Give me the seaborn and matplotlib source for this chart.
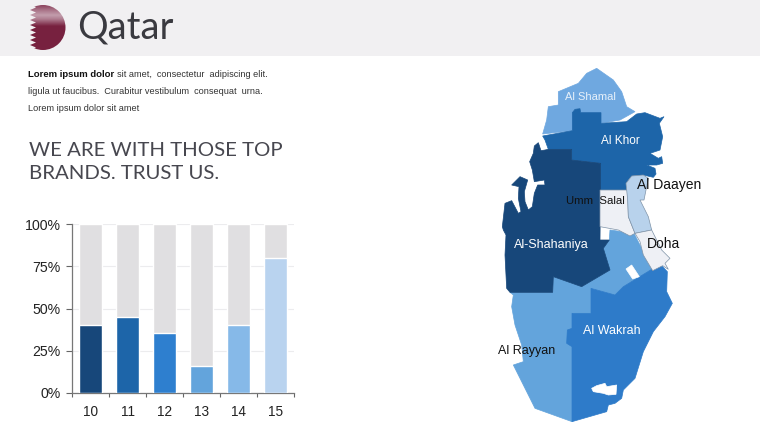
import matplotlib
matplotlib.use("Agg")
import matplotlib.pyplot as plt
from matplotlib.patches import Polygon, Circle, Rectangle
import numpy as np
import pandas as pd
import seaborn as sns

categories = ["10", "11", "12", "13", "14", "15"]
values = [40, 45, 35.5, 16, 40, 80]
totals = [100, 100, 100, 100, 100, 100]
bar_colors = ["#17477a", "#1d65a9", "#2e7fcf", "#63a4dc", "#86b9e8", "#b9d3ef"]
y_ticks = [0, 25, 50, 75, 100]
y_labels = ["0%", "25%", "50%", "75%", "100%"]

# Region outlines, each list in the frame it was read in
def frame(ox, oy):
    return lambda pts: [(ox + x / 3, oy + y / 3) for x, y in pts]
n = frame(490, 60)
s = frame(490, 235)
w = frame(495, 130)
e = frame(600, 100)
c = frame(590, 200)

shamal = n([(158,222),(170,180),(175,140),(205,135),(205,95),(265,70),(290,40),(320,25),(370,60),(395,95),(410,140),(435,155),(390,180),(333,190),(333,158),(272,158),(270,146),(255,148),(247,158),(247,212)])
khor = n([(158,228),(247,212),(247,158),(255,148),(270,146),(272,158),(333,158),(333,190)]) + e([(80,65),(110,42),(135,38),(180,55),(192,50),(178,70),(188,110),(180,150),(150,160),(175,175),(185,170),(188,190),(170,195),(140,195),(165,205),(168,222),(160,232),(130,225),(95,228),(78,250)]) + n([(410,395),(330,390),(332,310),(245,300),(245,268),(175,268),(165,240)])
shahaniya = n([(175,268),(245,268),(245,300),(332,310),(330,540),(358,540)]) + s([(340,40),(360,105),(275,155),(190,125),(188,172),(60,172),(50,160),(45,60),(48,0)]) + w([(25,300),(22,290),(30,220),(50,212),(70,250),(78,245),(70,205),(72,170),(50,165),(75,140),(98,150),(88,185),(90,215),(100,240),(112,230),(118,190),(128,165),(150,165),(148,150),(118,155),(112,120),(104,95),(115,70),(118,48),(130,38),(138,62),(150,60)])
umm_salal = c([(30,-30),(113,-30),(115,50),(135,100),(120,108),(85,90),(30,80)])
daayen = e([(95,228),(130,225),(145,235),(140,260),(132,300)]) + c([(150,0),(175,50),(185,90),(135,100),(115,50),(113,0)]) + e([(78,250)])
doha = c([(135,100),(185,90),(215,150),(240,175),(225,190),(235,208),(218,197),(188,212),(160,165),(150,125)])
rayyan = s([(60,172),(188,172),(190,125),(275,155),(360,105),(340,40),(358,15),(360,-15),(432,-5),(455,40),(490,100),(400,155),(375,180),(305,160),(303,235),(246,235),(246,560),(135,520),(70,390),(100,380),(95,330),(75,270),(65,215),(70,180)])
wakrah = s([(303,160),(375,180),(400,155),(490,100),(515,92),(532,110),(530,170),(547,205),(525,245),(490,290),(460,350),(435,430),(400,465),(395,490),(375,505),(355,510),(350,530),(246,560),(246,335),(230,325),(232,285),(246,280),(246,235),(303,235)])
hole = c([(108,207),(125,195),(148,230),(128,237)])
inlet = s([(305,460),(320,452),(345,445),(350,455),(380,450),(378,478),(355,480),(340,475),(310,470)])

regions = [(shamal, "#6fa8e0"), (rayyan, "#63a4dc"), (wakrah, "#2e7bc9"), (khor, "#1d65a9"),
           (shahaniya, "#17477a"), (umm_salal, "#eef0f5"), (daayen, "#b8d2ec"), (doha, "#eef0f5"),
           (hole, "#ffffff"), (inlet, "#ffffff")]

map_labels = [("Al Shamal", 590, 97, "#e6f0fa", 8.0), ("Al Khor", 620, 141, "white", 8.5),
              ("Al Daayen", 669, 185, "#111111", 10), ("Umm  Salal", 595, 201, "#111111", 8.2),
              ("Al-Shahaniya", 551, 245, "white", 9), ("Doha", 663, 244, "#111111", 10),
              ("Al Rayyan", 527, 351, "#111111", 9), ("Al Wakrah", 612, 331, "white", 9)]

sns.set_theme(style="white")
W, H = 760, 428
fig = plt.figure(figsize=(W / 100, H / 100), dpi=100, facecolor="white")

bg = fig.add_axes([0, 0, 1, 1])
bg.set_xlim(0, W); bg.set_ylim(H, 0); bg.axis("off")
bg.add_patch(Rectangle((0, 0), W, 56, fc="#f1f0f2", ec="none"))

# Flag badge
clip = Circle((43, 27.5), 22.5, transform=bg.transData)
ys = np.linspace(5, 50, 90)
mix = np.interp(ys, [5, 9, 15, 19, 26, 50], [0.2, 0.45, 0.75, 0.55, 0, 0])[:, None, None]
c_hi = np.array([0.86, 0.78, 0.82]); c_base = np.array([0.47, 0.13, 0.25])
img = mix * c_hi + (1 - mix) * c_base
im = bg.imshow(img, extent=(20, 66, 50, 5), aspect="auto", zorder=2)
im.set_clip_path(clip)
bg.set_xlim(0, W); bg.set_ylim(H, 0)
teeth = [(20, 5), (31, 5)]
for i in range(9):
    y = 5 + i * 5
    teeth += [(36, y + 2.5), (30, y + 5)]
teeth += [(20, 50)]
bg.add_patch(Polygon(teeth, fc="#f1f0f2", ec="none", zorder=3))

bg.text(77, 27, "Qatar", fontsize=27.5, family="Lato", weight="normal",
        color="#3a3a40", va="center", ha="left")

body = dict(family="Liberation Sans", fontsize=6.6, color="#333333", va="center", ha="left")
bg.text(28, 74, "Lorem ipsum dolor", weight="bold", **{**body, "color": "#111111", "fontsize": 6.8})
bg.text(117, 74, "sit amet,  consectetur  adipiscing elit.", **body)
bg.text(28, 91, "ligula ut faucibus.  Curabitur vestibulum  consequat  urna.", **body)
bg.text(28, 108, "Lorem ipsum dolor sit amet", **body)
bg.text(29, 150, "WE ARE WITH THOSE TOP", family="Lato", weight="normal", fontsize=14.7, color="#47474f", va="center")
bg.text(29, 173, "BRANDS. TRUST US.", family="Lato", weight="normal", fontsize=14.7, color="#47474f", va="center")

for pts, col in regions:
    bg.add_patch(Polygon(pts, closed=True, fc=col, ec="#7f93a8" if col in ("#eef0f5", "#b8d2ec") else col, lw=0.5, zorder=2))
for txt, x, y, col, fs in map_labels:
    bg.text(x, y, txt, color=col, fontsize=fs, family="Liberation Sans", ha="center", va="center", zorder=4)

# Bar chart
left, right, top, bottom = 72, 294, 224, 393
ax = fig.add_axes([left / W, 1 - bottom / H, (right - left) / W, (bottom - top) / H])
ax.patch.set_alpha(0)
df = pd.DataFrame({"cat": categories, "value": values, "total": totals})
ax.yaxis.grid(True, color="#ececee", lw=0.8)
ax.set_axisbelow(True)
sns.barplot(data=df, x="cat", y="total", color="#e0dfe1", saturation=1, width=0.61, ax=ax, zorder=2)
sns.barplot(data=df, x="cat", y="value", hue="cat", palette=bar_colors, saturation=1, width=0.61,
            legend=False, ax=ax, zorder=3)
ax.set_xlim(-0.5, 5.5)
ax.set_ylim(0, 100)
ax.set_xlabel(""); ax.set_ylabel("")
ax.set_yticks(y_ticks, y_labels)
ax.set_xticks(np.arange(6), categories)
ax.set_xticks(np.arange(-0.5, 5.6, 1), minor=True)
ax.tick_params(axis="x", which="major", length=0, pad=9, labelsize=9.8, labelcolor="#222222")
ax.tick_params(axis="x", which="minor", length=3, width=0.8, color="#666666", bottom=True)
ax.tick_params(axis="y", length=4, width=0.8, color="#666666", left=True, pad=4, labelsize=10.2, labelcolor="#222222")
for lab in ax.get_xticklabels() + ax.get_yticklabels():
    lab.set_family("Liberation Sans")
sns.despine(ax=ax)
for sp in ("left", "bottom"):
    ax.spines[sp].set_color("#777777"); ax.spines[sp].set_linewidth(0.9)

fig.savefig("out.png", dpi=100)
